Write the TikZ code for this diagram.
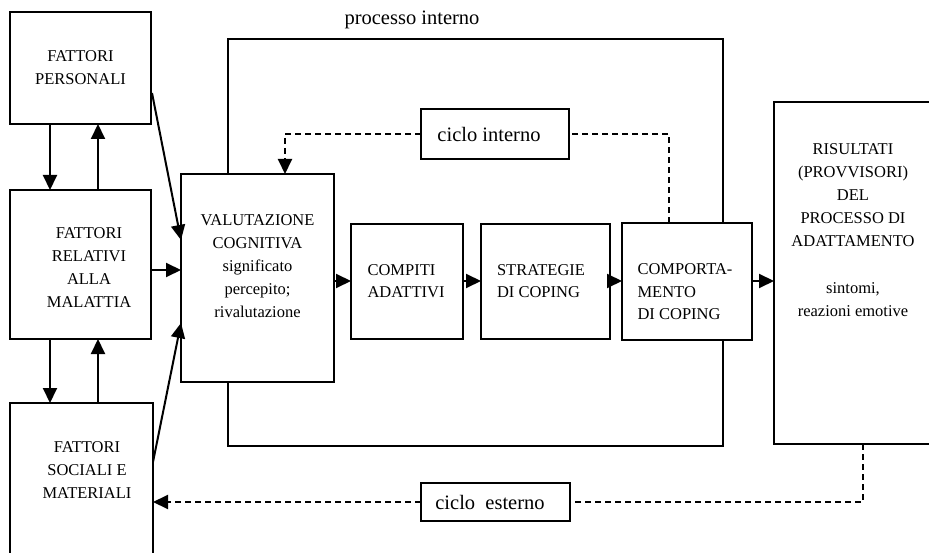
\documentclass[tikz,border=0pt]{standalone}
\usepackage{fontspec}
\setmainfont{Liberation Serif}
\usetikzlibrary{arrows.meta,calc}
\begin{document}
\begin{tikzpicture}[x=1pt,y=-1pt,
  box/.style={draw,line width=2.2pt,fill=white,rectangle,inner sep=0pt,outer sep=0pt},
  txt/.style={font=\fontsize{16.5}{23}\selectfont,align=center,inner sep=0pt},
  txtl/.style={font=\fontsize{16.5}{22.5}\selectfont,align=left,inner sep=0pt},
  big/.style={font=\fontsize{20.5}{24}\selectfont,inner sep=0pt},
  arr/.style={line width=2pt,-{Triangle[length=15pt,width=14pt]}},
  dsh/.style={line width=2pt,dash pattern=on 6pt off 4pt},
  darr/.style={dsh,-{Triangle[length=15pt,width=14pt]}}]
\useasboundingbox (0,0) rectangle (929,553);
\clip (0,0) rectangle (929,553);
% outer rectangle "processo interno"
\node[box,fill=none,minimum width=495pt,minimum height=407pt] (proc) at (475.5,242.5) {};
\node[big] (proclab) at (412,20) {processo interno};
% left boxes
\node[box,minimum width=141pt,minimum height=112pt] (pers) at (80.5,68) {};
\node[txt] (perst) at (80.5,68) {FATTORI\\PERSONALI};
\node[box,minimum width=141pt,minimum height=149pt] (rel) at (80.5,264.5) {};
\node[txt] (relt) at (89,268) {FATTORI\\RELATIVI\\ALLA\\MALATTIA};
\node[box,minimum width=143pt,minimum height=170pt] (soc) at (81.5,488) {};
\node[txt] (soct) at (87,470) {FATTORI\\SOCIALI E\\MATERIALI};
% valutazione
\node[box,minimum width=153pt,minimum height=208pt] (val) at (257.5,278) {};
\node[txt] (valt) at (257.5,266.5) {VALUTAZIONE\\COGNITIVA\\significato\\percepito;\\rivalutazione};
% chain
\node[box,minimum width=112pt,minimum height=115pt] (comp) at (407,281.5) {};
\node[txtl] (compt) at (406,281) {COMPITI\\ADATTIVI};
\node[box,minimum width=129pt,minimum height=115pt] (strat) at (545.5,281.5) {};
\node[txtl] (stratt) at (541,281) {STRATEGIE\\DI COPING};
\node[box,minimum width=130pt,minimum height=117pt] (comport) at (687,281.5) {};
\node[txtl] (comportt) at (685,292) {COMPORTA-\\MENTO\\DI COPING};
% risultati
\node[box,minimum width=158pt,minimum height=342pt] (res) at (853,273) {};
\node[txt] (rest) at (853,230) {RISULTATI\\(PROVVISORI)\\DEL\\PROCESSO DI\\ADATTAMENTO\\[24pt]sintomi,\\reazioni emotive};
% cycle labels
\node[box,minimum width=148pt,minimum height=50pt] (ci) at (495,134) {};
\node[big] (cit) at (489,134) {ciclo interno};
\node[box,minimum width=149pt,minimum height=38pt] (ce) at (495.5,502) {};
\node[big] (cet) at (490,502) {ciclo\ \ esterno};
% helper coordinates
\coordinate (xa) at (50,0);
\coordinate (xb) at (98,0);
\coordinate (xi) at (285,0);
\coordinate (xr) at (669,0);
\coordinate (xe) at (863,0);
\coordinate (p1) at (152,93);
\coordinate (v1) at (181,240);
\coordinate (s1) at (153,462);
\coordinate (v3) at (181,323);
\coordinate (yr) at (0,270);
\coordinate (ya) at (0,281);
% vertical arrows left column
\draw[arr] (pers.south -| xa) -- (rel.north -| xa);
\draw[arr] (rel.north -| xb) -- (pers.south -| xb);
\draw[arr] (rel.south -| xa) -- (soc.north -| xa);
\draw[arr] (soc.north -| xb) -- (rel.south -| xb);
% into valutazione
\draw[arr] (p1) -- (v1);
\draw[arr] (rel.east |- yr) -- (val.west |- yr);
\draw[arr] (s1) -- (v3);
% chain arrows
\draw[arr] (val.east |- ya) -- (comp.west |- ya);
\draw[arr] (comp.east |- ya) -- (strat.west |- ya);
\draw[arr] (strat.east |- ya) -- (comport.west |- ya);
\draw[arr] (comport.east |- ya) -- (res.west |- ya);
% ciclo interno
\draw[dsh] (comport.north -| xr) |- (ci.east);
\draw[darr] (ci.west) -| (val.north -| xi);
% ciclo esterno
\draw[dsh] (res.south -| xe) |- (ce.east);
\draw[darr] (ce.west) -- (soc.east |- ce.west);
\end{tikzpicture}
\end{document}
